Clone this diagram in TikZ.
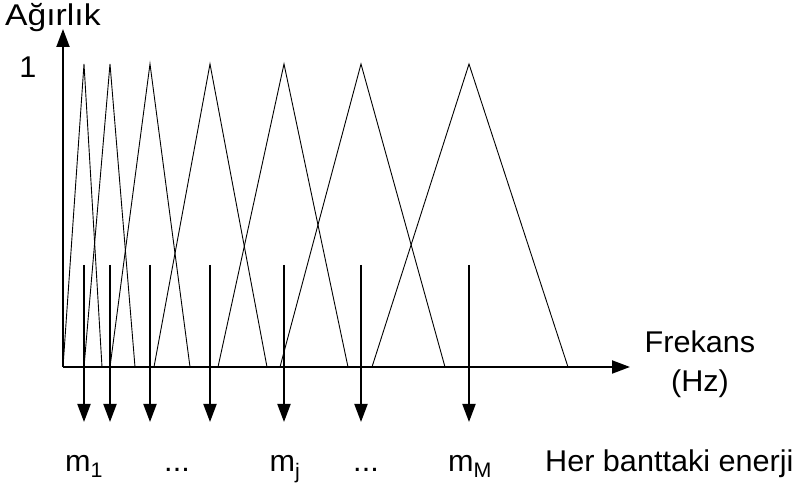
\documentclass[tikz,border=0pt]{standalone}
\usepackage{fontspec}
\setmainfont{Liberation Sans}[FakeStretch=1.02]
\usepackage{tikz}
\usetikzlibrary{arrows.meta}

\begin{document}
\begin{tikzpicture}[
						x=1pt, y=1pt,
						every node/.style={font=\fontsize{30}{39}\selectfont, inner sep=0pt},
						axis/.style={line width=2pt, -{Triangle[length=18pt,width=13pt]}},
						band/.style={line width=2pt, -{Triangle[length=18pt,width=13pt]}},
						tri/.style={line width=0.9pt},
						line join=miter
						]
						
						\useasboundingbox (0,0) rectangle (807,489);
						
						% Filter triangles (left / peak / right)
						\foreach \l/\p/\r in {63/84/102, 84/110/135, 110/150/190, 154/210/267,
							218/284/348, 280/361/445, 372/469/568}
						\draw[tri] (\l,122) -- (\p,425) -- (\r,122);
						
						% Axes
						\coordinate (o) at (63,122);
						\coordinate (ytip) at (63,460);
						\coordinate (xtip) at (630,122);
						\draw[axis] (o) -- (ytip);
						\draw[axis] (o) -- (xtip);
						
						% Band energy arrows
						\foreach \x [count=\i] in {84,110,150,210,284,361,469} {
							\coordinate (top\i) at (\x,224);
							\coordinate (bot\i) at (\x,67);
							\draw[band] (top\i) -- (bot\i);
						}
						
						% Labels
						\node[anchor=base west,xscale=1.1] (ylab) at (5,463) {Ağırlık};
						\node[anchor=base] (one) at (28,411) {1};
						\node[align=center] (xlab) at (700,125) {Frekans\\(Hz)};
						\node[anchor=base] (m1) at (84,17) {m\textsubscript{1}};
						\node[anchor=base] (dots1) at (177,17) {...};
						\node[anchor=base] (mj) at (285,17) {m\textsubscript{j}};
						\node[anchor=base] (dots2) at (366,17) {...};
						\node[anchor=base] (mM) at (470,17) {m\textsubscript{M}};
						\node[anchor=base west] (enerji) at (545,17) {Her banttaki enerji};
						
					\end{tikzpicture}
\end{document}
